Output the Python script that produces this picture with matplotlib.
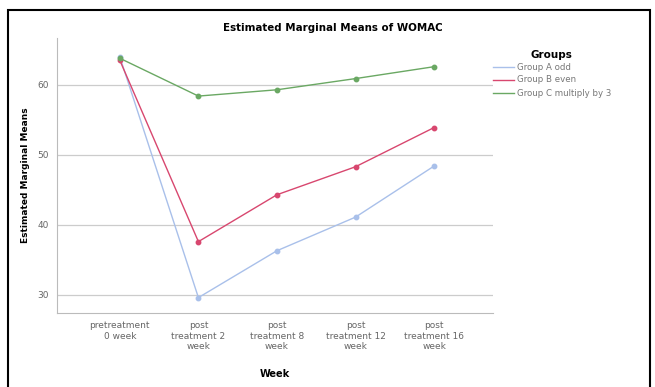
import matplotlib.pyplot as plt
from matplotlib.lines import Line2D
from matplotlib.patches import Rectangle

weeks = ["pretreatment\n0 week", "post\ntreatment 2\nweek", "post\ntreatment 8\nweek",
         "post\ntreatment 12\nweek", "post\ntreatment 16\nweek"]
group_a = [64.0, 29.6, 36.3, 41.1, 48.4]
group_b = [63.5, 37.6, 44.3, 48.3, 53.9]
group_c = [63.8, 58.4, 59.3, 60.9, 62.6]
labels = ["Group A odd", "Group B even", "Group C multiply by 3"]
colors = ["#a9c0ea", "#d8476f", "#6aa863"]
yticks = [30, 40, 50, 60]

W, H = 655, 387
fig = plt.figure(figsize=(W / 100, H / 100), dpi=100)
ax = fig.add_axes([57 / W, 1 - 313 / H, 436 / W, 275 / H])

# outer black frame
fig.patches.append(Rectangle((8 / W, -0.05), 642 / W, 1 - 10 / H + 0.05,
                             transform=fig.transFigure, fill=False,
                             edgecolor="black", linewidth=1.5))

x = range(len(weeks))
for vals, lab, col in zip([group_a, group_b, group_c], labels, colors):
    ax.plot(x, vals, color=col, linewidth=1.0, marker="o", markersize=3.2,
            markerfacecolor=col, markeredgecolor=col, label=lab)

ax.set_xlim(-0.8, 4.75)
ax.set_ylim(27.4, 66.7)
ax.set_yticks(yticks)
ax.set_xticks(list(x))
ax.set_xticklabels(weeks)
ax.grid(axis="y", color="#cccccc", linewidth=0.9)
ax.set_axisbelow(True)
ax.tick_params(length=0, labelsize=6.5, labelcolor="#666666", pad=6)

for s in ["top", "right"]:
    ax.spines[s].set_visible(False)
for s in ["left", "bottom"]:
    ax.spines[s].set_color("#bbbbbb")

fig.text(333 / W, 1 - 28 / H, "Estimated Marginal Means of WOMAC", fontsize=7.4,
         fontweight="bold", ha="center", va="center")
ax.set_ylabel("Estimated Marginal Means", fontsize=6.5, fontweight="bold", labelpad=5)
ax.set_xlabel("Week", fontsize=7, fontweight="bold", labelpad=13)

# legend drawn by hand
fig.text(551 / W, 1 - 55 / H, "Groups", fontsize=7.5, fontweight="bold",
         ha="center", va="center")
for i, (lab, col) in enumerate(zip(labels, colors)):
    yy = 1 - (67 + 13 * i) / H
    fig.add_artist(Line2D([493 / W, 514 / W], [yy, yy], color=col, linewidth=1.0,
                          transform=fig.transFigure))
    fig.text(517 / W, yy, lab, fontsize=6.2, color="#777777", ha="left", va="center")

plt.savefig("out.png", dpi=100)
plt.close()
